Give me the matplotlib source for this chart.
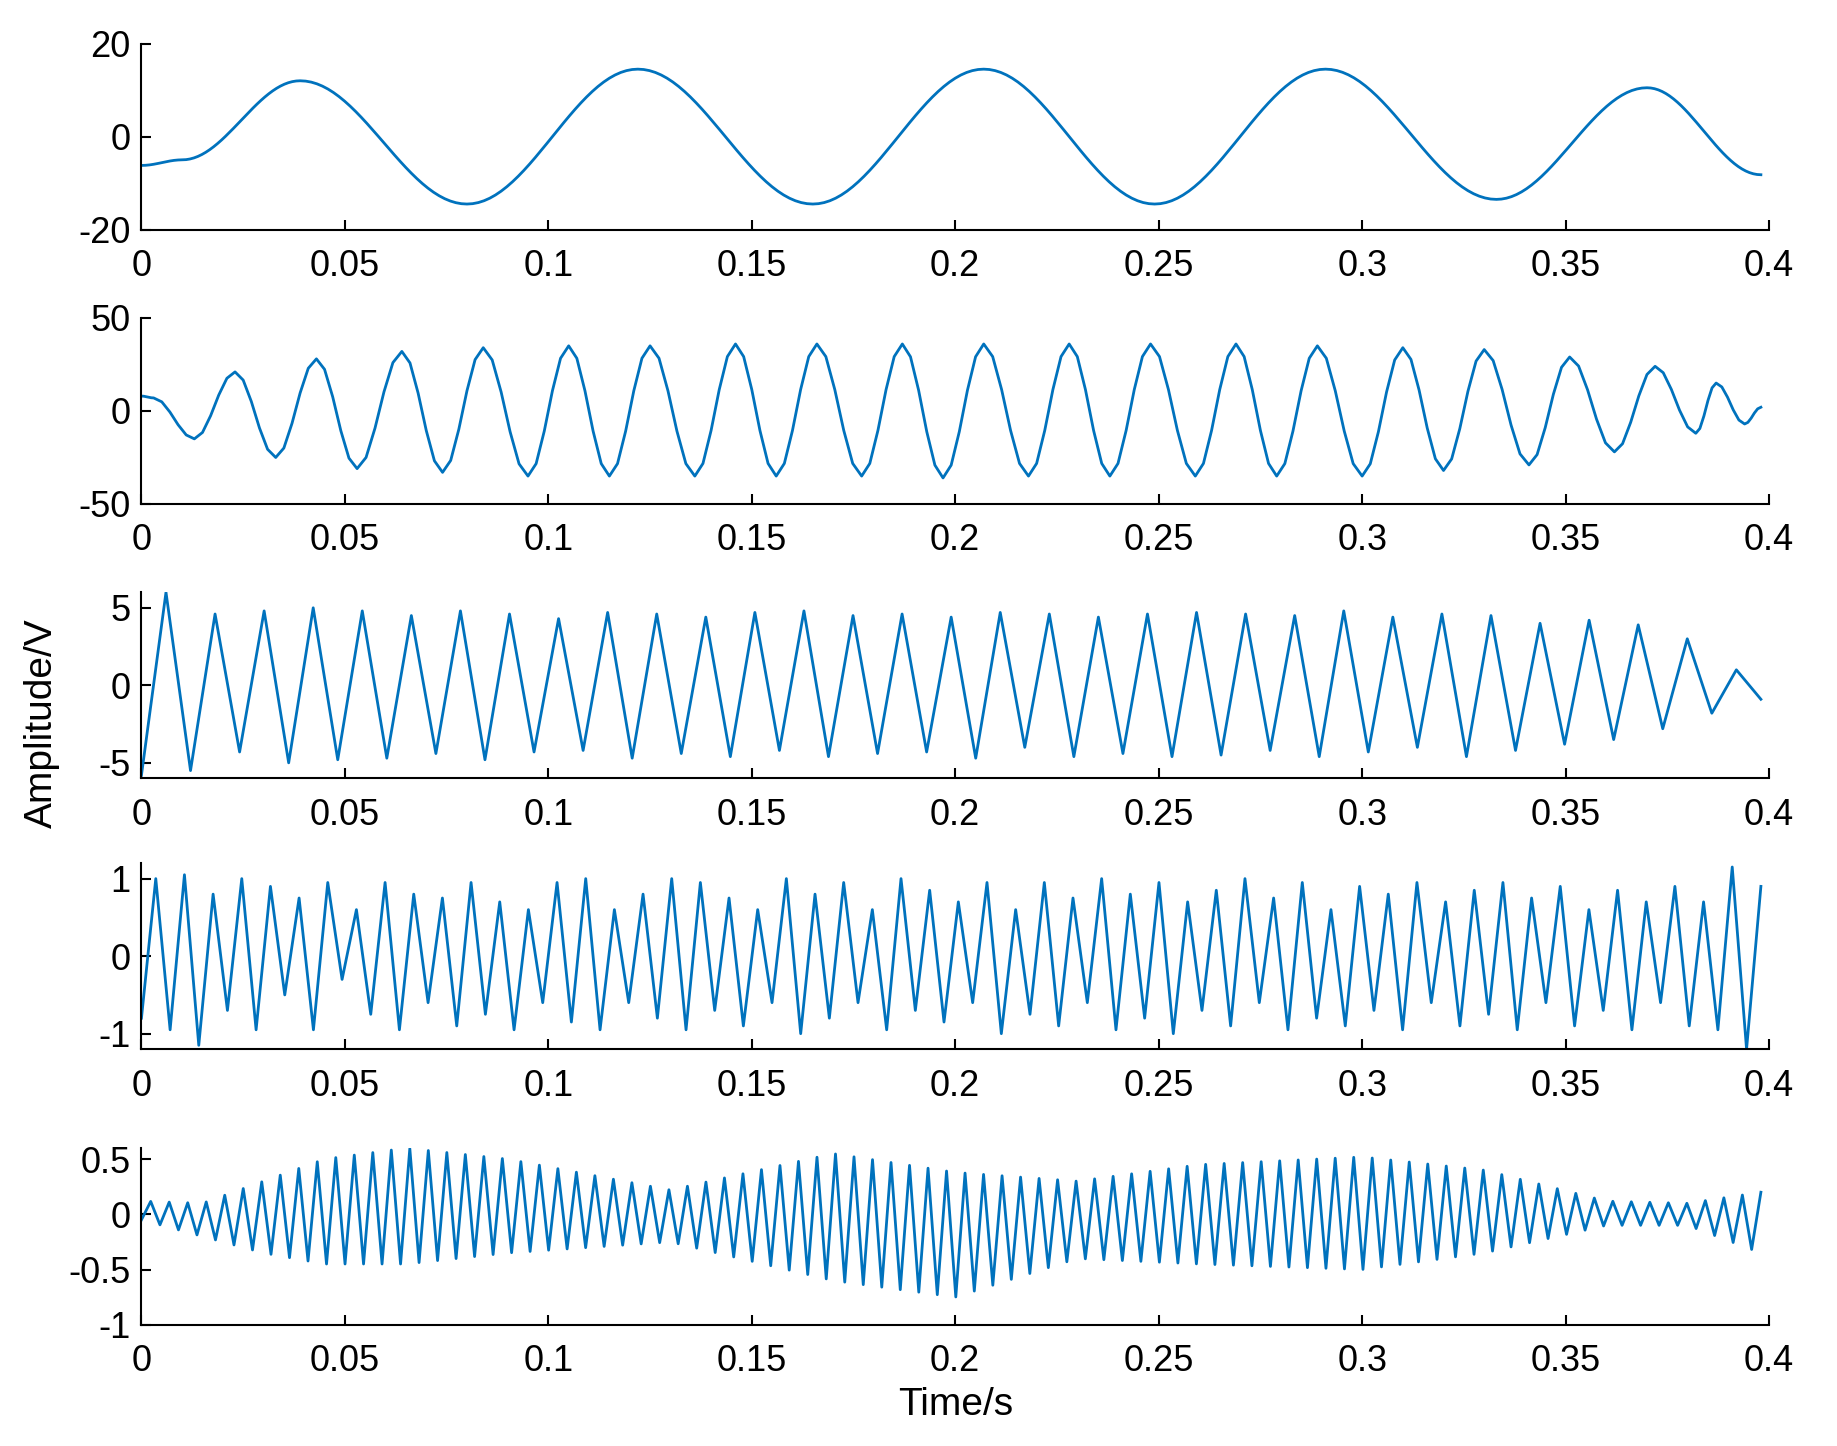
import numpy as np
import matplotlib
matplotlib.use("Agg")
import matplotlib.pyplot as plt

plt.rcParams['font.family'] = ['Liberation Sans', 'DejaVu Sans']

# Panel 1: extrema (time, value)
p1_t = [0.0, 0.01, 0.039, 0.080, 0.122, 0.165, 0.207, 0.249, 0.291, 0.333, 0.370, 0.398]
p1_v = [-6.2, -5.0, 12.0, -14.5, 14.5, -14.5, 14.5, -14.5, 14.5, -13.5, 10.5, -8.2]

# Panel 2: extrema
p2_t = [0.0, 0.003, 0.013, 0.023, 0.033, 0.043, 0.053, 0.064, 0.074, 0.084, 0.095, 0.105, 0.115,
        0.125, 0.136, 0.146, 0.156, 0.166, 0.177, 0.187, 0.197, 0.207, 0.218, 0.228, 0.238,
        0.248, 0.259, 0.269, 0.279, 0.289, 0.300, 0.310, 0.320, 0.330, 0.341, 0.351, 0.362,
        0.372, 0.382, 0.387, 0.394, 0.398]
p2_v = [8, 7, -15, 21, -25, 28, -31, 32, -33, 34, -35, 35, -35, 35, -35, 36, -35, 36, -35, 36,
        -36, 36, -35, 36, -35, 36, -35, 36, -35, 35, -35, 34, -32, 33, -29, 29, -22, 24, -12, 15, -7, 2]

# Panel 3: peaks / troughs
p3_peaks = [6.0, 4.6, 4.8, 5.0, 4.8, 4.5, 4.8, 4.6, 4.3, 4.7, 4.6, 4.4, 4.7, 4.8, 4.5, 4.6, 4.4,
            4.7, 4.6, 4.4, 4.6, 4.7, 4.6, 4.5, 4.8, 4.4, 4.6, 4.5, 4.0, 4.2, 3.9, 3.0, 1.0]
p3_troughs = [-5.8, -5.5, -4.3, -5.0, -4.8, -4.7, -4.4, -4.8, -4.3, -4.2, -4.7, -4.4, -4.6, -4.2,
              -4.6, -4.4, -4.3, -4.7, -4.0, -4.6, -4.4, -4.6, -4.5, -4.2, -4.6, -4.3, -4.0, -4.6,
              -4.2, -3.8, -3.5, -2.8, -1.8, -0.9]

# Panel 4: peaks / troughs
p4_peaks = [1.0, 1.05, 0.8, 1.0, 0.9, 0.75, 0.95, 0.6, 0.95, 0.8, 0.75, 0.95, 0.7, 0.6, 0.95, 1.0,
            0.6, 0.8, 1.0, 0.95, 0.75, 0.6, 1.0, 0.8, 0.95, 0.6, 1.0, 0.85, 0.7, 0.95, 0.6, 0.95,
            0.75, 1.0, 0.8, 0.95, 0.7, 0.85, 1.0, 0.75, 0.95, 0.6, 0.9, 0.8, 0.95, 0.7, 0.85,
            0.95, 0.75, 0.9, 0.6, 0.85, 0.7, 0.9, 0.7, 1.15, 0.9]
p4_troughs = [-0.8, -0.95, -1.15, -0.7, -0.95, -0.5, -0.95, -0.3, -0.75, -0.95, -0.6, -0.9, -0.75,
              -0.95, -0.6, -0.85, -0.95, -0.6, -0.8, -0.95, -0.7, -0.9, -0.6, -1.0, -0.8, -0.6,
              -0.95, -0.7, -0.85, -0.6, -1.0, -0.75, -0.9, -0.6, -0.95, -0.8, -1.0, -0.7, -0.9,
              -0.6, -0.95, -0.8, -0.9, -0.7, -0.95, -0.6, -0.9, -0.75, -0.95, -0.6, -0.9, -0.7,
              -0.95, -0.6, -0.9, -0.95, -1.2]

# Panel 5: envelope knots
p5_knot_t = [0.0, 0.015, 0.03, 0.045, 0.065, 0.09, 0.13, 0.17, 0.20, 0.23, 0.26, 0.30, 0.33, 0.36, 0.38, 0.398]
p5_upper  = [0.12, 0.1, 0.3, 0.5, 0.6, 0.5, 0.22, 0.55, 0.38, 0.3, 0.45, 0.52, 0.4, 0.12, 0.1, 0.2]
p5_lower  = [-0.05, -0.2, -0.35, -0.45, -0.45, -0.35, -0.25, -0.6, -0.75, -0.4, -0.45, -0.5, -0.35, -0.1, -0.1, -0.35]
p5_npeaks = 88

color = '#0072BD'
W, H = 1837, 1446
fig = plt.figure(figsize=(W/100, H/100), dpi=100)
tops = [37, 270, 503, 733, 975]
bots = [195, 428, 661, 891, 1125]
S = 1228.0
axes = []
for t, b in zip(tops, bots):
    ax = fig.add_axes([0.077, 1 - b/S, 0.886, (b - t)/S])
    axes.append(ax)

def cos_interp(ts, vs, n=30):
    xs, ys = [], []
    for i in range(len(ts) - 1):
        u = np.linspace(0, 1, n, endpoint=False)
        xs.append(ts[i] + (ts[i+1]-ts[i])*u)
        ys.append(vs[i] + (vs[i+1]-vs[i])*(1-np.cos(np.pi*u))/2)
    xs.append([ts[-1]]); ys.append([vs[-1]])
    return np.concatenate(xs), np.concatenate(ys)

x, y = cos_interp(p1_t, p1_v)
axes[0].plot(x, y, color=color, lw=2)
x, y = cos_interp(p2_t, p2_v, n=5)
axes[1].plot(x, y, color=color, lw=2)

def zig(peaks, troughs, t0, t1):
    vals = []
    for i in range(max(len(peaks), len(troughs))):
        if i < len(troughs): vals.append(troughs[i])
        if i < len(peaks): vals.append(peaks[i])
    ts = np.linspace(t0, t1, len(vals))
    return ts, vals

x, y = zig(p3_peaks, p3_troughs, 0.0, 0.398)
axes[2].plot(x, y, color=color, lw=2)
x, y = zig(p4_peaks, p4_troughs, 0.0, 0.398)
axes[3].plot(x, y, color=color, lw=2)
n5 = 2*p5_npeaks
ts5 = np.linspace(0, 0.398, n5)
up = np.interp(ts5, p5_knot_t, p5_upper)
lo = np.interp(ts5, p5_knot_t, p5_lower)
y5 = np.where(np.arange(n5) % 2 == 1, up, lo)
axes[4].plot(ts5, y5, color=color, lw=2)

ylims = [(-20, 20), (-50, 50), (-6, 6), (-1.2, 1.2), (-1, 0.6)]
yticks = [[-20, 0, 20], [-50, 0, 50], [-5, 0, 5], [-1, 0, 1], [-1, -0.5, 0, 0.5]]
ylabels = [['-20', '0', '20'], ['-50', '0', '50'], ['-5', '0', '5'], ['-1', '0', '1'], ['-1', '-0.5', '0', '0.5']]
xt = [0, 0.05, 0.1, 0.15, 0.2, 0.25, 0.3, 0.35, 0.4]
xl = ['0', '0.05', '0.1', '0.15', '0.2', '0.25', '0.3', '0.35', '0.4']
for ax, yl, yt, ylb in zip(axes, ylims, yticks, ylabels):
    ax.set_xlim(0, 0.4)
    ax.set_ylim(*yl)
    ax.set_yticks(yt); ax.set_yticklabels(ylb)
    ax.set_xticks(xt); ax.set_xticklabels(xl)
    for s in ['top', 'right']:
        ax.spines[s].set_visible(False)
    for s in ['left', 'bottom']:
        ax.spines[s].set_linewidth(1.5)
    ax.tick_params(direction='in', labelsize=26, length=7, width=1.5)
    ax.tick_params(axis='x', pad=14)
    ax.tick_params(axis='y', pad=8)
axes[4].set_xlabel('Time/s', fontsize=28, labelpad=6)
fig.text(0.023, 0.5, 'Amplitude/V', rotation=90, fontsize=28, va='center', ha='center')
fig.savefig('out.png', dpi=100)
